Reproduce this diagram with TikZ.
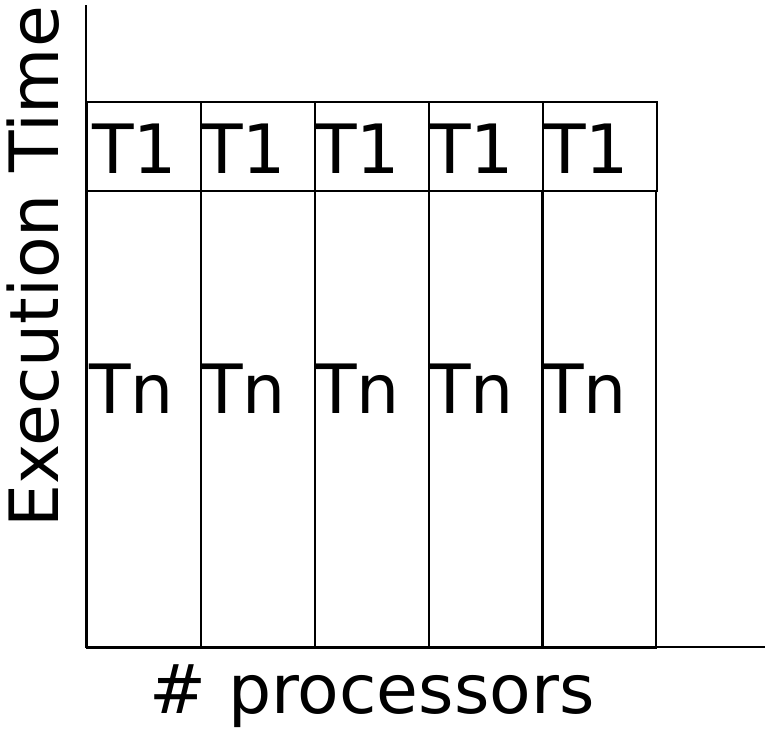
\documentclass[tikz,border=0pt]{standalone}
\usepackage{fontspec}
\setmainfont{DejaVu Sans}
\usepackage{tikz}
\usetikzlibrary{positioning}

\begin{document}
\begin{tikzpicture}[x=1pt,y=-1pt,
        cell/.style={draw,line width=2pt,rectangle,inner sep=0pt,
            minimum width=114pt,anchor=north west},
        topcell/.style={cell,minimum height=89pt},
        lowcell/.style={cell,minimum height=457pt},
        lbl/.style={inner sep=0pt,anchor=base west,font=\fontsize{68}{80}\selectfont},
        axis/.style={line width=2pt}]

        \useasboundingbox (0,0) rectangle (768,731);

        % cells
        \node[topcell] (c1) at (86,101) {};
        \node[topcell] (c2) at (200,101) {};
        \node[topcell] (c3) at (314,101) {};
        \node[topcell] (c4) at (428,101) {};
        \node[topcell] (c5) at (542,101) {};
        \node[lowcell] (d1) at (86,190) {};
        \node[lowcell] (d2) at (200,190) {};
        \node[lowcell] (d3) at (314,190) {};
        \node[lowcell] (d4) at (428,190) {};
        \node[lowcell] (d5) at (541,190) {};

        % labels
        \node[lbl] (t1a) at (92,173) {T1};
        \node[lbl] (t1b) at (201,173) {T1};
        \node[lbl] (t1c) at (315,173) {T1};
        \node[lbl] (t1d) at (429,173) {T1};
        \node[lbl] (t1e) at (544,173) {T1};
        \node[lbl] (tna) at (89,413) {Tn};
        \node[lbl] (tnb) at (201,413) {Tn};
        \node[lbl] (tnc) at (315,413) {Tn};
        \node[lbl] (tnd) at (429,413) {Tn};
        \node[lbl] (tne) at (542,413) {Tn};

        % axes
        \coordinate (origin) at (86,647);
        \coordinate (ytop) at (86,5);
        \coordinate (xend) at (765,647);
        \draw[axis] (ytop) -- (origin) -- (xend);

        \node[lbl,anchor=base,rotate=90] (ylabel) at (58,267) {Execution Time};
        \node[lbl,anchor=base] (xlabel) at (372,713) {\# processors};
    \end{tikzpicture}
\end{document}
